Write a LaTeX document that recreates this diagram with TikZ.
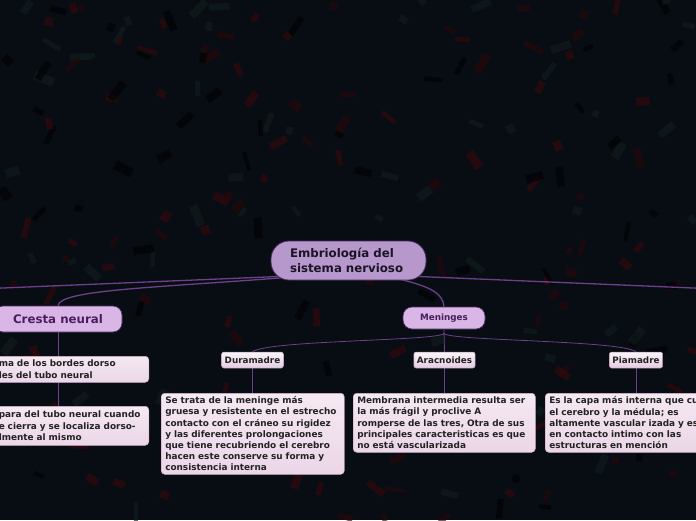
\documentclass[tikz,border=0pt]{standalone}
\usepackage{fontspec}
\setmainfont{DejaVu Sans}
\usetikzlibrary{calc}
\definecolor{bgc}{HTML}{080D13}
\definecolor{linec}{HTML}{6E3F8A}
\definecolor{cfill}{HTML}{B698CC}
\definecolor{cborder}{HTML}{4E2E62}
\definecolor{ctext}{HTML}{1A1424}
\definecolor{sfill}{HTML}{D9B6E6}
\definecolor{stext}{HTML}{4A1E5E}
\definecolor{lfilltop}{HTML}{FBF6FA}
\definecolor{lfillbot}{HTML}{E2CCDF}
\definecolor{lborder}{HTML}{A88AA6}
\definecolor{dfilltop}{HTML}{F5E9F2}
\definecolor{dfillbot}{HTML}{EBD6E7}
\definecolor{dborder}{HTML}{CDB2CB}
\definecolor{dtext}{HTML}{222222}
\definecolor{confa}{HTML}{34090D}
\definecolor{confb}{HTML}{010203}
\definecolor{confc}{HTML}{28080A}
\definecolor{confd}{HTML}{101C1B}
\pgfdeclarelayer{bglayer}
\pgfdeclarelayer{lines}
\pgfsetlayers{bglayer,lines,main}
\tikzset{
  centralbox/.style={rectangle, rounded corners=18pt, minimum width=155pt, minimum height=39pt,
    fill=cfill, draw=cborder, line width=0.8pt, text=ctext, text width=117pt, align=left,
    font=\fontsize{11.8}{14.5}\selectfont\bfseries},
  subbox/.style={rectangle, rounded corners=9pt, fill=sfill, draw=cborder, line width=0.7pt,
    text=stext, align=center},
  labelbox/.style={rectangle, rounded corners=2pt, top color=lfilltop, bottom color=lfillbot,
    draw=lborder, line width=0.5pt, text=dtext, minimum height=16pt, inner xsep=3pt, inner ysep=0pt,
    font=\fontsize{8.8}{10.5}\selectfont\bfseries},
  descbox/.style={rectangle, rounded corners=3.5pt, top color=dfilltop, bottom color=dfillbot,
    draw=dborder, line width=0.5pt, text=dtext, align=left, inner xsep=4pt, inner ysep=2.5pt,
    font=\fontsize{8.9}{11.2}\selectfont\bfseries},
  mainline/.style={draw=linec, line width=1.3pt},
  subline/.style={draw=linec, line width=0.8pt},
}
\begin{document}
\begin{tikzpicture}[x=1pt,y=-1pt]
\useasboundingbox (0,0) rectangle (696,520);
\clip (0,0) rectangle (696,520);
\begin{pgfonlayer}{bglayer}
\fill[bgc] (0,0) rectangle (696,520);
\pgfmathsetseed{12}
\foreach \i in {1,...,230}{
  \pgfmathsetmacro\cx{rnd*696}
  \pgfmathsetmacro\cy{pow(rnd,1.4)*520}
  \pgfmathsetmacro\ang{rnd*180}
  \pgfmathsetmacro\len{6+rnd*15}
  \pgfmathsetmacro\wid{2+rnd*2.5}
  \pgfmathtruncatemacro\col{mod(\i,4)}
  \ifcase\col\def\cc{confa}\or\def\cc{confb}\or\def\cc{confc}\else\def\cc{confd}\fi
  \fill[\cc, opacity=0.65, rotate around={\ang:(\cx,\cy)}] (\cx-\len/2,\cy-\wid) rectangle (\cx+\len/2,\cy+\wid);
}
\end{pgfonlayer}

% central node
\node[centralbox] (c) at (348.5,260.5) {Embriología del\\sistema nervioso};

% first level
\node[subbox, minimum width=128pt, minimum height=26pt, font=\fontsize{11.8}{14}\selectfont\bfseries] (cr) at (58,319) {Cresta neural};
\node[subbox, minimum width=82pt, minimum height=22pt, font=\fontsize{8.8}{10.5}\selectfont\bfseries] (m) at (444,318) {Meninges};

% Cresta neural children (clipped at left edge)
\node[descbox, anchor=north east, text width=146pt, minimum height=26pt] (cr1) at (149,356) {ma de los bordes dorso\\les del tubo neural};
\node[descbox, anchor=north east, text width=146pt, minimum height=39pt] (cr2) at (149,406) {para del tubo neural cuando\\e cierra y se localiza dorso-\\lmente al mismo};

% Meninges children
\node[labelbox] (du) at (252.5,360) {Duramadre};
\node[labelbox] (ar) at (444.5,360) {Aracnoides};
\node[labelbox] (pi) at (636,360) {Piamadre};

\node[descbox, anchor=north west, text width=175pt, minimum height=81pt] (dud) at (161,393) {Se trata de la meninge más\\gruesa y resistente en el estrecho\\contacto con el cráneo su rigidez\\y las diferentes prolongaciones\\que tiene recubriendo el cerebro\\hacen este conserve su forma y\\consistencia interna};
\node[descbox, anchor=north west, text width=174pt, minimum height=59pt] (ard) at (353,393) {Membrana intermedia resulta ser\\la más frágil y proclive A\\romperse de las tres, Otra de sus\\principales caracteristicas es que\\no está vascularizada};
\node[descbox, anchor=north west, text width=175pt, minimum height=59pt] (pid) at (545,393) {Es la capa más interna que cu\\el cerebro y la médula; es\\altamente vascular izada y es\\en contacto intimo con las\\estructuras en mención};

% free ends of the off-canvas branches
\coordinate (offl) at (-2,288.2);
\coordinate (offr) at (698,288.2);

\begin{pgfonlayer}{lines}
\draw[mainline] ([xshift=10pt,yshift=4pt]c.south west) -- (offl);
\draw[mainline] ([xshift=-10pt,yshift=4pt]c.south east) -- (offr);
\draw[mainline] ([xshift=10pt,yshift=2.5pt]c.south west) .. controls (150,288) and (60,290) .. (cr.north);
\draw[mainline] ([xshift=-26pt,yshift=1pt]c.south east) .. controls (432,287) and (443,294) .. (m.north);
\draw[subline] (cr.south) -- (cr2.north -| cr.south);
\draw[subline] (m.south) -- (ar.north);
\draw[subline] ([yshift=-4pt]m.south) .. controls (440,341) and (268,340) .. (du.north);
\draw[subline] ([yshift=-4pt]m.south) .. controls (448,341) and (620,340) .. (pi.north);
\draw[subline] (du.south) -- (dud.north -| du.south);
\draw[subline] (ar.south) -- (ard.north -| ar.south);
\draw[subline] (pi.south) -- (pid.north -| pi.south);
\end{pgfonlayer}
\end{tikzpicture}
\end{document}
